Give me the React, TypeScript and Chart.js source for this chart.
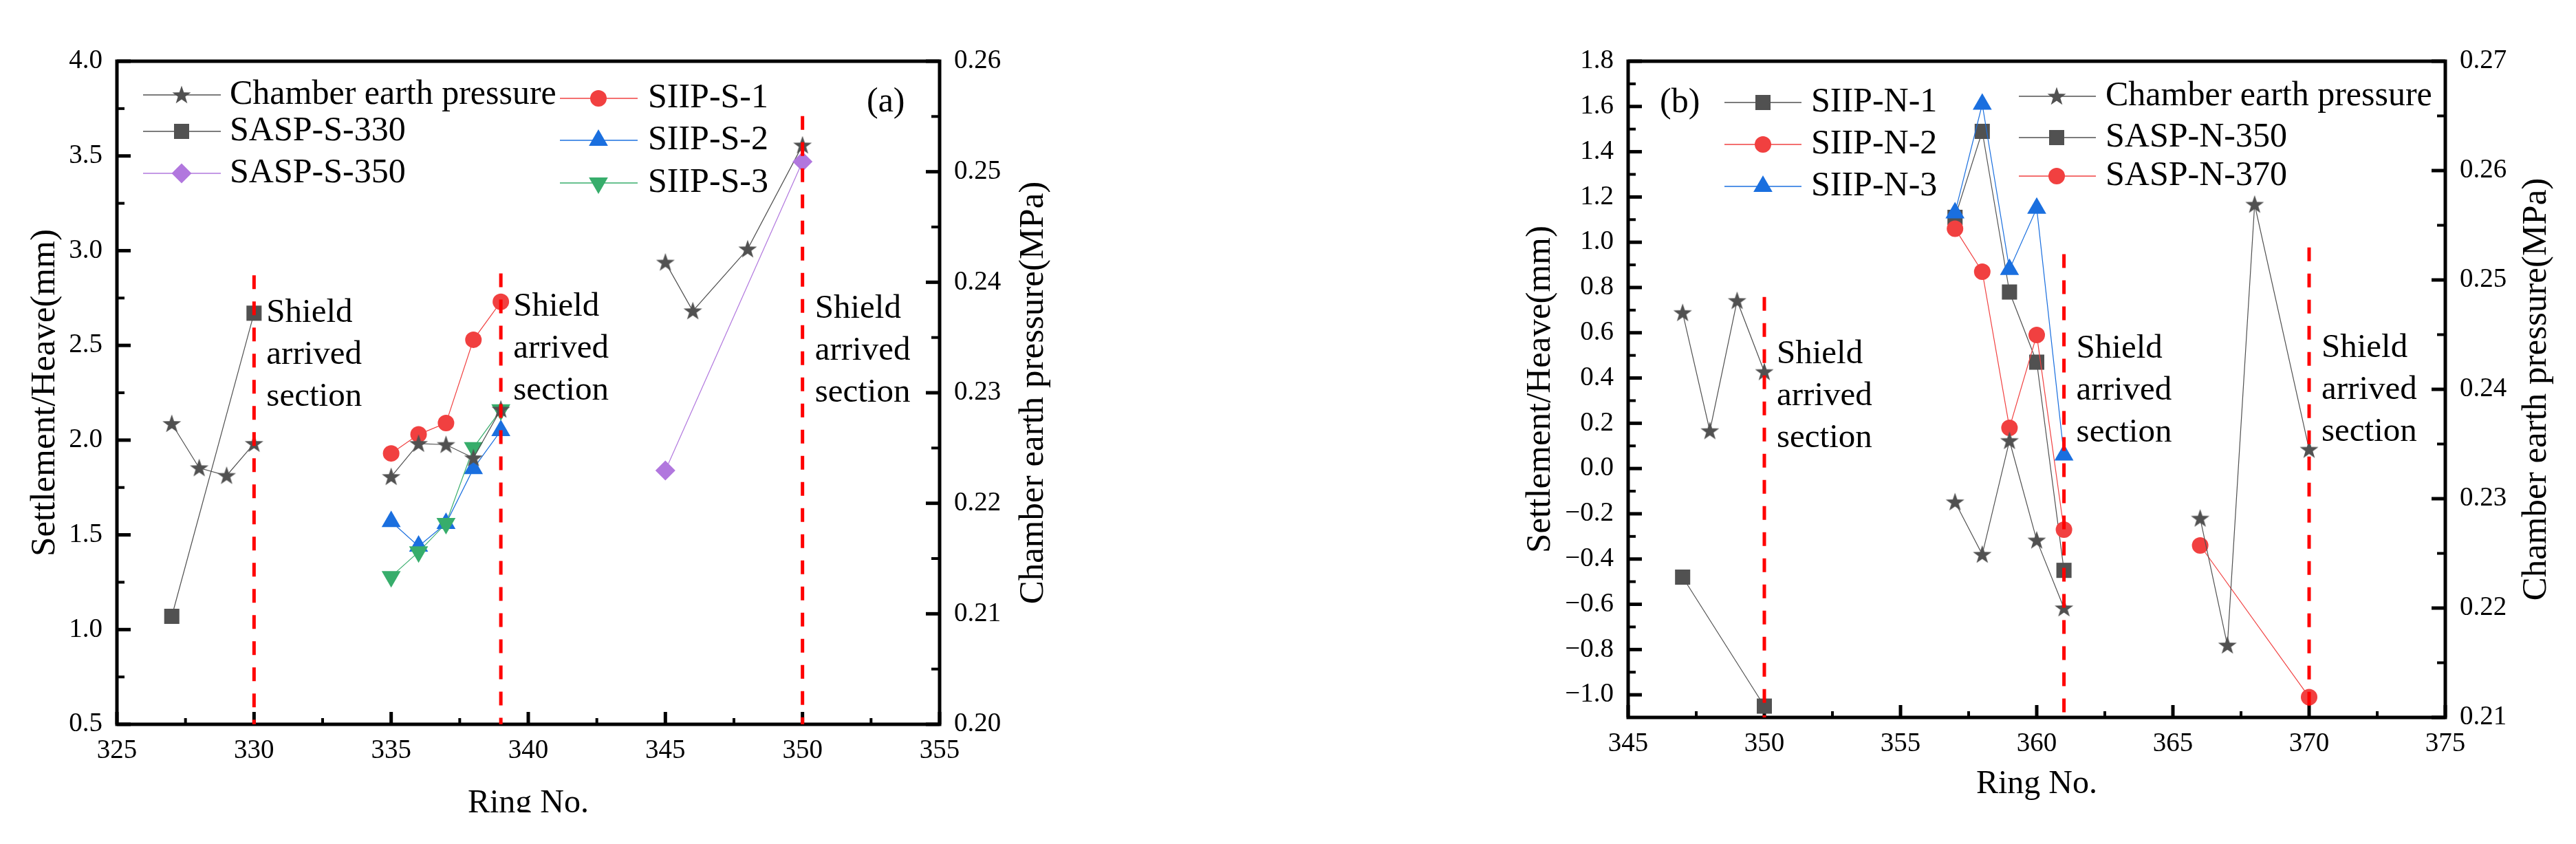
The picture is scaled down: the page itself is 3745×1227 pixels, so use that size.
import React, { useEffect, useRef } from 'react';
import { Chart, registerables } from 'chart.js';
import { drawPoint } from 'chart.js/helpers';

Chart.register(...registerables);

// ================= Panel (a) data =================
const A_xTicks = [325, 330, 335, 340, 345, 350, 355];
const A_yTicks = [0.5, 1.0, 1.5, 2.0, 2.5, 3.0, 3.5, 4.0];
const A_y2Ticks = [0.20, 0.21, 0.22, 0.23, 0.24, 0.25, 0.26];

const A_chamberRings = [327, 328, 329, 330, 335, 336, 337, 338, 339, 345, 346, 348, 350];
const A_chamberMPa = [0.2272, 0.2232, 0.2225, 0.2254, 0.2224, 0.2254, 0.2253, 0.2241, 0.2285, 0.2418, 0.2374, 0.2430, 0.2524];
const A_sasp330Rings = [327, 330];
const A_sasp330 = [1.07, 2.67];
const A_sasp350Rings = [345, 350];
const A_sasp350 = [1.84, 3.47];
const A_siipRings = [335, 336, 337, 338, 339];
const A_siip1 = [1.93, 2.03, 2.09, 2.53, 2.73];
const A_siip2 = [1.57, 1.44, 1.56, 1.85, 2.05];
const A_siip3 = [1.28, 1.41, 1.56, 1.96, 2.16];
const A_shieldRings = [330, 339, 350];
const A_shieldTop = [2.87, 2.88, 3.71];
const A_shieldTextY = [2.625, 2.655, 2.645];

// ================= Panel (b) data =================
const B_xTicks = [345, 350, 355, 360, 365, 370, 375];
const B_yTicks = [-1.0, -0.8, -0.6, -0.4, -0.2, 0.0, 0.2, 0.4, 0.6, 0.8, 1.0, 1.2, 1.4, 1.6, 1.8];
const B_y2Ticks = [0.21, 0.22, 0.23, 0.24, 0.25, 0.26, 0.27];

const B_chamberRings = [347, 348, 349, 350, 357, 358, 359, 360, 361, 366, 367, 368, 370];
const B_chamberMPa = [0.2470, 0.2362, 0.2481, 0.2416, 0.2297, 0.2249, 0.2353, 0.2262, 0.2200, 0.2282, 0.2166, 0.2569, 0.2345];
const B_siipRings = [357, 358, 359, 360, 361];
const B_siip1 = [1.11, 1.49, 0.78, 0.47, -0.45];
const B_siip2 = [1.06, 0.87, 0.18, 0.59, -0.27];
const B_siip3 = [1.13, 1.61, 0.88, 1.15, 0.06];
const B_sasp350Rings = [347, 350];
const B_sasp350 = [-0.48, -1.05];
const B_sasp370Rings = [366, 370];
const B_sasp370 = [-0.34, -1.01];
const B_shieldRings = [350, 361, 370];
const B_shieldTop = [0.758, 0.947, 0.977];
const B_shieldTextY = [0.467, 0.491, 0.494];

const SHIELD_LINES = ['Shield', 'arrived', 'section'];

// ================= Styles =================
const FONT = "'Liberation Serif', 'Times New Roman', serif";
const GRAY = '#515151';
const RED = '#F14040';
const BLUE = '#1A6FDF';
const GREEN = '#37AD6B';
const PURPLE = '#B177DE';
const DASH_RED = '#FF0000';

function makeStar(color: string) {
  const c = document.createElement('canvas');
  c.width = 30;
  c.height = 30;
  const ctx = c.getContext('2d')!;
  ctx.fillStyle = color;
  ctx.beginPath();
  const R = 14.2, r = 5.6, cx = 15, cy = 15.8;
  for (let k = 0; k < 10; k++) {
    const ang = -Math.PI / 2 + (k * Math.PI) / 5;
    const rr = k % 2 === 0 ? R : r;
    const px = cx + rr * Math.cos(ang);
    const py = cy + rr * Math.sin(ang);
    if (k === 0) ctx.moveTo(px, py);
    else ctx.lineTo(px, py);
  }
  ctx.closePath();
  ctx.fill();
  return c;
}

function series(label: string, rings: number[], vals: number[], color: string, marker: any, yAxisID = 'y', extra: any = {}) {
  return {
    label,
    data: rings.map((x, i) => ({ x, y: vals[i] })),
    yAxisID,
    borderColor: color,
    backgroundColor: color,
    borderWidth: 1.2,
    pointStyle: marker.style,
    pointRadius: marker.radius,
    pointHoverRadius: marker.radius,
    pointRotation: marker.rotation || 0,
    pointBackgroundColor: color,
    pointBorderWidth: 0,
    tension: 0,
    fill: false,
    ...extra,
  };
}

function shieldLines(rings: number[], tops: number[], bottom: number) {
  return rings.map((r, i) => ({
    label: '',
    data: [{ x: r, y: tops[i] }, { x: r, y: bottom }],
    yAxisID: 'y',
    borderColor: DASH_RED,
    borderWidth: 5,
    borderDash: [20, 18],
    borderCapStyle: 'butt',
    pointRadius: 0,
    pointHoverRadius: 0,
    fill: false,
    order: -1,
  }));
}

const SQUARE = { style: 'rect', radius: 15.6 };
const CIRCLE = { style: 'circle', radius: 12 };
const TRI_UP = { style: 'triangle', radius: 16 };
const TRI_DOWN = { style: 'triangle', radius: 16, rotation: 180 };
const DIAMOND = { style: 'rectRot', radius: 14.5 };

function fmtSigned(v: number, d: number) {
  const s = Math.abs(v).toFixed(d);
  return v < -1e-9 ? '\u2212' + s : s;
}

function midpoints(vals: number[]) {
  const out: number[] = [];
  for (let i = 0; i < vals.length - 1; i++) out.push((vals[i] + vals[i + 1]) / 2);
  return out;
}

function makePlugin(spec: any) {
  return {
    id: 'decor_' + spec.id,
    beforeDatasetsDraw(chart: any) {
      const ctx = chart.ctx;
      const { left, right, top, bottom } = chart.chartArea;
      const xs = chart.scales.x, ys = chart.scales.y, y2 = chart.scales.y2;
      ctx.save();
      ctx.strokeStyle = '#000';
      ctx.lineCap = 'butt';
      // ticks
      const tick = (x1: number, y1: number, x2: number, y2p: number, w: number) => {
        ctx.lineWidth = w;
        ctx.beginPath();
        ctx.moveTo(x1, y1);
        ctx.lineTo(x2, y2p);
        ctx.stroke();
      };
      spec.xTicks.forEach((v: number) => { const p = xs.getPixelForValue(v); tick(p, bottom, p, bottom - 18, 5); });
      midpoints(spec.xTicks).forEach((v) => { const p = xs.getPixelForValue(v); tick(p, bottom, p, bottom - 9, 4); });
      spec.yTicks.forEach((v: number) => { const p = ys.getPixelForValue(v); tick(left, p, left + 20, p, 5); });
      midpoints(spec.yTicks).forEach((v) => { const p = ys.getPixelForValue(v); tick(left, p, left + 11, p, 4); });
      spec.y2Ticks.forEach((v: number) => { const p = y2.getPixelForValue(v); tick(right, p, right - 20, p, 5); });
      midpoints(spec.y2Ticks).forEach((v) => { const p = y2.getPixelForValue(v); tick(right, p, right - 12, p, 4); });
      // frame
      ctx.lineWidth = 5;
      ctx.strokeRect(left, top, right - left, bottom - top);
      ctx.restore();
    },
    afterDatasetsDraw(chart: any) {
      const ctx = chart.ctx;
      const xs = chart.scales.x, ys = chart.scales.y;
      ctx.save();
      // Shield arrived section labels
      ctx.fillStyle = '#000';
      ctx.font = `49px ${FONT}`;
      ctx.textAlign = 'left';
      ctx.textBaseline = 'alphabetic';
      spec.shieldRings.forEach((r: number, i: number) => {
        const x = xs.getPixelForValue(r) + 18;
        const y0 = ys.getPixelForValue(spec.shieldTextY[i]);
        SHIELD_LINES.forEach((t, k) => ctx.fillText(t, x, y0 + k * 61));
      });
      // panel label
      ctx.font = `50px ${FONT}`;
      ctx.fillText(spec.panelLabel.text, spec.panelLabel.x, spec.panelLabel.y);
      // legend
      spec.legend.forEach((item: any) => {
        const ds = chart.data.datasets.find((d: any) => d.label === item.label);
        if (!ds) return;
        ctx.strokeStyle = ds.borderColor;
        ctx.lineWidth = 1.3;
        ctx.setLineDash([]);
        ctx.beginPath();
        ctx.moveTo(item.x1, item.y);
        ctx.lineTo(item.x2, item.y);
        ctx.stroke();
        ctx.fillStyle = ds.pointBackgroundColor;
        drawPoint(ctx, { pointStyle: ds.pointStyle, radius: ds.pointRadius, rotation: ds.pointRotation, borderWidth: 0 } as any, item.mx, item.y);
        ctx.fillStyle = '#000';
        ctx.font = `50px ${FONT}`;
        ctx.textBaseline = 'middle';
        ctx.textAlign = 'left';
        ctx.fillText(ds.label, item.tx, item.y);
      });
      // right axis title (reads bottom-to-top)
      ctx.translate(spec.rightTitle.x, spec.rightTitle.y);
      ctx.rotate(-Math.PI / 2);
      ctx.textAlign = 'center';
      ctx.textBaseline = 'middle';
      ctx.font = `51px ${FONT}`;
      ctx.fillStyle = '#000';
      ctx.fillText('Chamber earth pressure(MPa)', 0, 0);
      ctx.restore();
    },
    afterDraw(chart: any) {
      if (!spec.clip) return;
      const ctx = chart.ctx;
      ctx.save();
      ctx.fillStyle = '#fff';
      ctx.fillRect(spec.clip.x, spec.clip.y, spec.clip.w, spec.clip.h);
      ctx.restore();
    },
  };
}

function buildConfig(spec: any, datasets: any[]) {
  const tickFont = { family: FONT, size: 39 };
  return {
    type: 'line',
    data: { datasets },
    options: {
      responsive: false,
      animation: false,
      devicePixelRatio: 1,
      events: [],
      layout: { padding: spec.padding },
      plugins: { legend: { display: false }, tooltip: { enabled: false } },
      scales: {
        x: {
          type: 'linear',
          position: 'bottom',
          min: spec.xTicks[0],
          max: spec.xTicks[spec.xTicks.length - 1],
          grid: { display: false, drawTicks: false },
          border: { display: false },
          afterBuildTicks: (s: any) => { s.ticks = spec.xTicks.map((v: number) => ({ value: v })); },
          afterFit: (s: any) => { s.height = spec.xAxisHeight; },
          ticks: { autoSkip: false, maxRotation: 0, minRotation: 0, padding: 15, color: '#000', font: tickFont, callback: (v: any) => String(v) },
          title: { display: true, text: 'Ring No.', color: '#000', font: { family: FONT, size: 48 }, padding: { top: 0, bottom: spec.xTitlePad } },
        },
        y: {
          type: 'linear',
          position: 'left',
          min: spec.yMin,
          max: spec.yMax,
          grid: { display: false, drawTicks: false },
          border: { display: false },
          afterBuildTicks: (s: any) => { s.ticks = spec.yTicks.map((v: number) => ({ value: v })); },
          afterFit: (s: any) => { s.width = 170; },
          ticks: { autoSkip: false, padding: 21, color: '#000', font: tickFont, callback: (v: any) => fmtSigned(Number(v), 1) },
          title: { display: true, text: 'Settlement/Heave(mm)', color: '#000', font: { family: FONT, size: 51 }, padding: { top: spec.yTitlePad, bottom: 0 } },
        },
        y2: {
          type: 'linear',
          position: 'right',
          min: spec.y2Ticks[0],
          max: spec.y2Ticks[spec.y2Ticks.length - 1],
          grid: { display: false, drawTicks: false },
          border: { display: false },
          afterBuildTicks: (s: any) => { s.ticks = spec.y2Ticks.map((v: number) => ({ value: v })); },
          afterFit: (s: any) => { s.width = 170; },
          ticks: { autoSkip: false, padding: 21, color: '#000', font: tickFont, callback: (v: any) => Number(v).toFixed(2) },
        },
      },
    },
    plugins: [makePlugin(spec)],
  };
}

const specA = {
  id: 'a',
  padding: { left: 0, right: 334, top: 89, bottom: 0 },
  xAxisHeight: 174,
  xTitlePad: 30,
  yTitlePad: 35,
  yMin: 0.5,
  yMax: 4.0,
  xTicks: A_xTicks,
  yTicks: A_yTicks,
  y2Ticks: A_y2Ticks,
  shieldRings: A_shieldRings,
  shieldTextY: A_shieldTextY,
  panelLabel: { text: '(a)', x: 1260, y: 162 },
  rightTitle: { x: 1503, y: 571 },
  clip: { x: 560, y: 1181, w: 420, h: 46 },
  legend: [
    { label: 'Chamber earth pressure', x1: 208, x2: 321, mx: 264, tx: 334, y: 138 },
    { label: 'SASP-S-330', x1: 208, x2: 321, mx: 264, tx: 334, y: 191 },
    { label: 'SASP-S-350', x1: 208, x2: 321, mx: 264, tx: 334, y: 252 },
    { label: 'SIIP-S-1', x1: 814, x2: 927, mx: 870, tx: 942, y: 143 },
    { label: 'SIIP-S-2', x1: 814, x2: 927, mx: 870, tx: 942, y: 204 },
    { label: 'SIIP-S-3', x1: 814, x2: 927, mx: 870, tx: 942, y: 266 },
  ],
};

const specB = {
  id: 'b',
  padding: { left: 327, right: 20, top: 89, bottom: 0 },
  xAxisHeight: 184,
  xTitlePad: 58,
  yTitlePad: 12,
  yMin: -1.1,
  yMax: 1.8,
  xTicks: B_xTicks,
  yTicks: B_yTicks,
  y2Ticks: B_y2Ticks,
  shieldRings: B_shieldRings,
  shieldTextY: B_shieldTextY,
  panelLabel: { text: '(b)', x: 543, y: 163 },
  rightTitle: { x: 1818, y: 566 },
  clip: null,
  legend: [
    { label: 'SIIP-N-1', x1: 637, x2: 749, mx: 693, tx: 763, y: 149 },
    { label: 'SIIP-N-2', x1: 637, x2: 749, mx: 693, tx: 763, y: 210 },
    { label: 'SIIP-N-3', x1: 637, x2: 749, mx: 693, tx: 763, y: 271 },
    { label: 'Chamber earth pressure', x1: 1065, x2: 1177, mx: 1120, tx: 1191, y: 140 },
    { label: 'SASP-N-350', x1: 1065, x2: 1177, mx: 1120, tx: 1191, y: 200 },
    { label: 'SASP-N-370', x1: 1065, x2: 1177, mx: 1120, tx: 1191, y: 256 },
  ],
};

function datasetsA(star: HTMLCanvasElement) {
  const STAR = { style: star, radius: 13 };
  return [
    ...shieldLines(A_shieldRings, A_shieldTop, specA.yMin),
    series('SASP-S-350', A_sasp350Rings, A_sasp350, PURPLE, DIAMOND),
    series('Chamber earth pressure', A_chamberRings, A_chamberMPa, GRAY, STAR, 'y2', { spanGaps: 4 }),
    series('SIIP-S-1', A_siipRings, A_siip1, RED, CIRCLE),
    series('SIIP-S-3', A_siipRings, A_siip3, GREEN, TRI_DOWN),
    series('SIIP-S-2', A_siipRings, A_siip2, BLUE, TRI_UP),
    series('SASP-S-330', A_sasp330Rings, A_sasp330, GRAY, SQUARE),
  ];
}

function datasetsB(star: HTMLCanvasElement) {
  const STAR = { style: star, radius: 13 };
  return [
    ...shieldLines(B_shieldRings, B_shieldTop, specB.yMin),
    series('Chamber earth pressure', B_chamberRings, B_chamberMPa, GRAY, STAR, 'y2', { spanGaps: 4 }),
    series('SIIP-N-3', B_siipRings, B_siip3, BLUE, TRI_UP),
    series('SIIP-N-2', B_siipRings, B_siip2, RED, CIRCLE),
    series('SIIP-N-1', B_siipRings, B_siip1, GRAY, SQUARE),
    series('SASP-N-350', B_sasp350Rings, B_sasp350, GRAY, SQUARE),
    series('SASP-N-370', B_sasp370Rings, B_sasp370, RED, CIRCLE),
  ];
}

export default function App() {
  const refA = useRef<HTMLCanvasElement>(null);
  const refB = useRef<HTMLCanvasElement>(null);
  useEffect(() => {
    const star = makeStar(GRAY);
    const ca = new Chart(refA.current as any, buildConfig(specA, datasetsA(star)) as any);
    const cb = new Chart(refB.current as any, buildConfig(specB, datasetsB(star)) as any);
    return () => {
      ca.destroy();
      cb.destroy();
    };
  }, []);
  return (
    <div style={{ position: 'absolute', left: 0, top: 0, width: 3745, height: 1227, background: '#fff', overflow: 'hidden' }}>
      <canvas ref={refA} width={1870} height={1227} style={{ position: 'absolute', left: 0, top: 0, width: 1870, height: 1227 }} />
      <canvas ref={refB} width={1875} height={1227} style={{ position: 'absolute', left: 1870, top: 0, width: 1875, height: 1227 }} />
    </div>
  );
}
